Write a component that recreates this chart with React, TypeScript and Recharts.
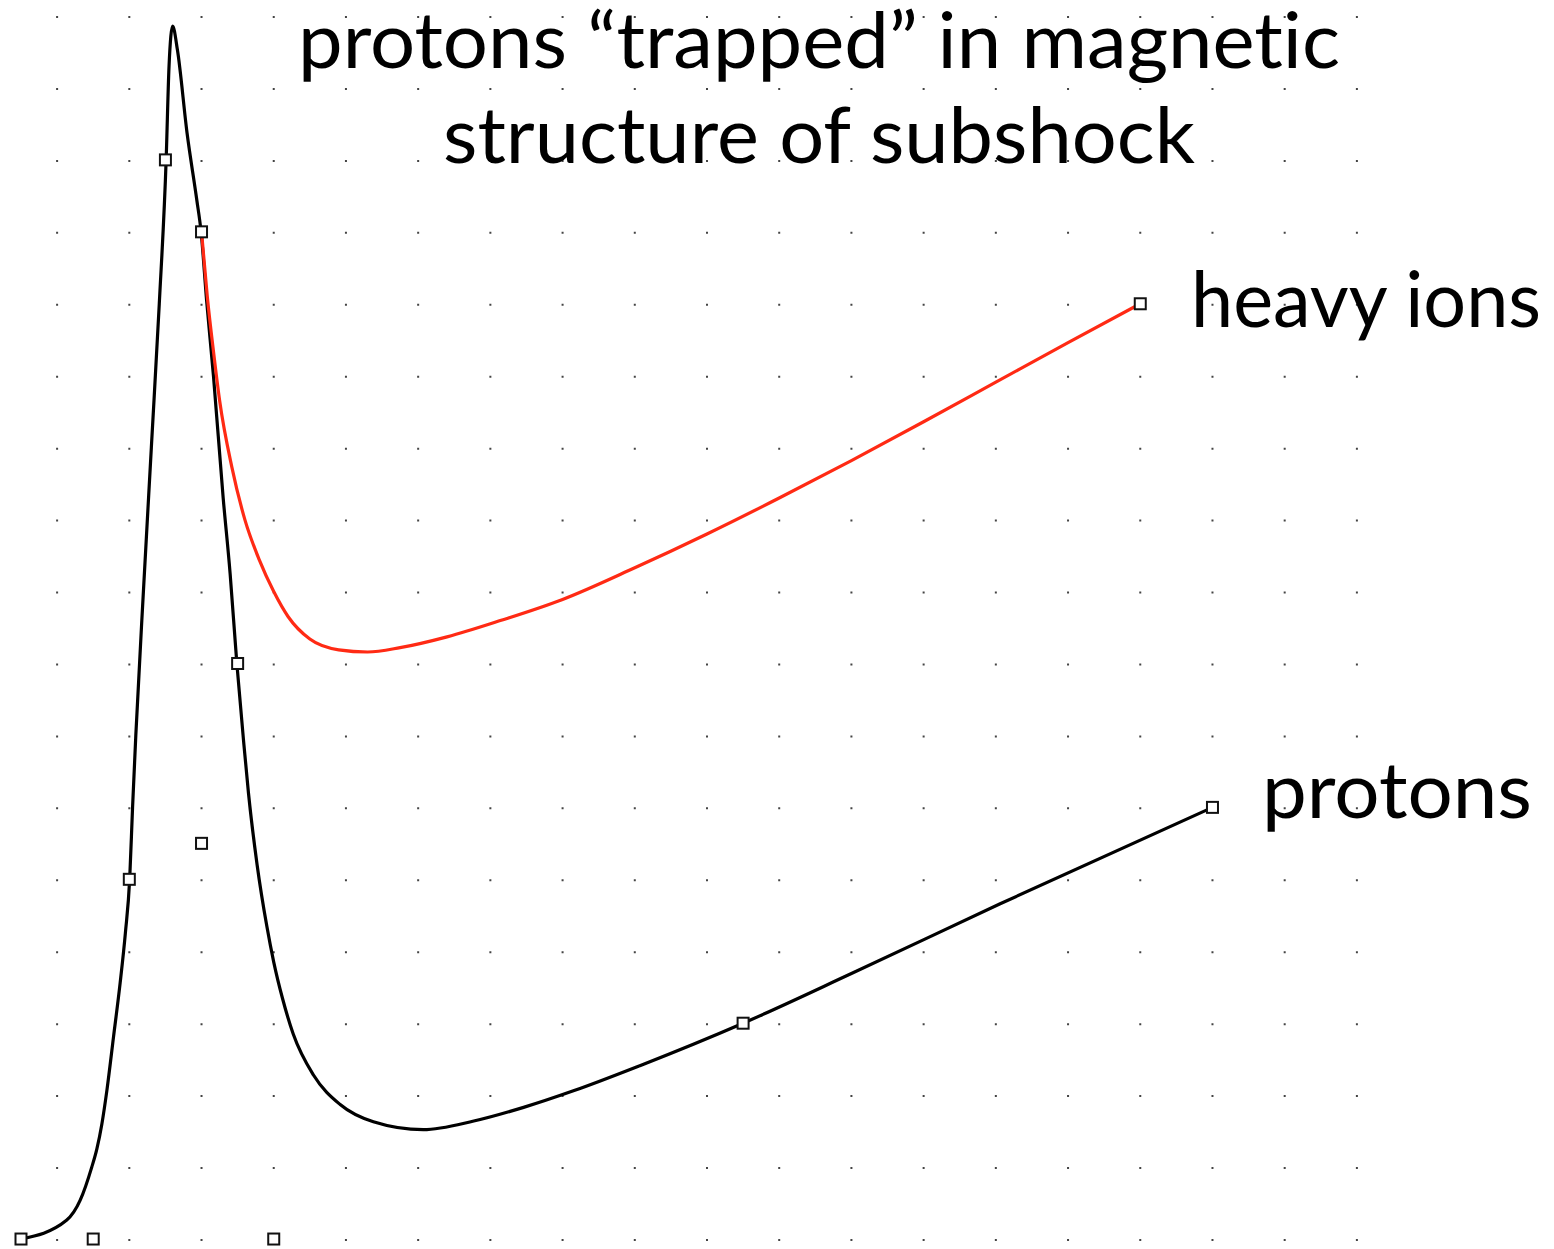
import React from "react";
import { ComposedChart, Line, Scatter, XAxis, YAxis, CartesianGrid } from "recharts";

// grid units: x = dot column, y = dot rows above the bottom row
const protonX = [
  -0.5, 0.13, 0.32, 0.48, 0.55, 0.62, 0.69, 0.78, 0.873, 0.945, 1.005, 1.045, 1.09, 1.195, 1.305, 1.415,
  1.51, 1.55, 1.6, 1.666, 1.8, 1.935, 1.994, 2.07, 2.165, 2.3, 2.396, 2.489, 2.58, 2.65, 2.77, 2.904,
  3.0, 3.12, 3.27, 3.55, 3.92, 4.38, 5.07, 5.77, 6.46, 7.15, 8.07, 9.5, 11.0, 13.06, 16,
];
const protonY = [
  0, 0.26, 0.54, 1.0, 1.25, 1.6, 2.07, 2.8, 3.56, 4.25, 5.0, 6.0, 7.0, 9.0, 11.0, 13.0,
  15.0, 16.3, 16.86, 16.53, 15.37, 14.44, 14.0, 13.05, 12.0, 10.3, 9.25, 8.0, 6.95, 6.2, 5.2, 4.35,
  3.85, 3.35, 2.85, 2.28, 1.87, 1.63, 1.52, 1.64, 1.83, 2.06, 2.41, 3.0, 3.69, 4.66, 6.0,
];

const ionX = [
  2.0, 2.08, 2.17, 2.25, 2.42, 2.6, 2.8, 3.0, 3.2, 3.5, 3.9, 4.3, 4.75, 5.4, 6.15, 7.0, 8.0, 9.0,
  10.0, 11.0, 12.0, 13.0, 14.0, 15.0,
];
const ionY = [
  14.0, 13.1, 12.3, 11.66, 10.73, 10.0, 9.44, 9.0, 8.65, 8.34, 8.19, 8.16, 8.22, 8.37, 8.6, 8.89, 9.33,
  9.8, 10.3, 10.82, 11.36, 11.91, 12.46, 13.0,
];

// little square handles
const handleX = [-0.5, 0.5, 1, 1.5, 2, 2, 2.5, 3, 9.5, 16, 15];
const handleY = [0, 0, 5, 15, 14, 5.5, 8, 0, 3, 6, 13];

const gridCols = [0, 1, 2, 3, 4, 5, 6, 7, 8, 9, 10, 11, 12, 13, 14, 15, 16, 17, 18];
const X_MIN = -0.5;
const X_MAX = 18.5;

const titleLines = ["protons \u201ctrapped\u201d in magnetic", "structure of subshock"];
const curveLabels = ["heavy ions", "protons"];

const protonData = protonX.map((x, i) => ({ x, y: protonY[i] }));
const ionData = ionX.map((x, i) => ({ x, y: ionY[i] }));
const handleData = handleX.map((x, i) => ({ x, y: handleY[i] }));

const Handle = (props: any) => {
  const { cx, cy } = props;
  if (cx == null || cy == null) return null;
  return <rect x={cx - 5.5} y={cy - 5.5} width={11} height={11} fill="#fff" stroke="#111" strokeWidth={2} />;
};

// dot columns, one per grid column
const columnLines = ({ xAxis, offset }: any) => {
  const s = xAxis && xAxis.scale;
  if (typeof s === "function") {
    const out = gridCols.map((c) => s(c));
    if (out.every((v) => typeof v === "number" && !isNaN(v))) return out;
  }
  return gridCols.map((c) => offset.left + ((c - X_MIN) / (X_MAX - X_MIN)) * offset.width);
};

const textStyle: React.CSSProperties = {
  fontFamily: "Lato, 'Open Sans', sans-serif",
  fontSize: 78,
  fill: "#000",
  fontVariantLigatures: "none",
  fontFeatureSettings: '"liga" 0, "clig" 0',
};

export default function App() {
  return (
    <div style={{ position: "absolute", left: 0, top: 0, width: 1554, height: 1249, overflow: "hidden", background: "#fff" }}>
      <ComposedChart width={1554} height={1275} margin={{ top: 16, right: 161, left: 21, bottom: 0 }}>
        <XAxis type="number" dataKey="x" domain={[X_MIN, X_MAX]} ticks={gridCols} hide />
        <YAxis type="number" dataKey="y" domain={[-0.5, 17]} hide />
        <CartesianGrid
          horizontal={false}
          verticalCoordinatesGenerator={columnLines}
          stroke="#444"
          strokeWidth={2}
          strokeDasharray="2 69.94"
        />
        <Line data={protonData} dataKey="y" type="monotone" stroke="#000" strokeWidth={3.2} dot={false} activeDot={false} isAnimationActive={false} />
        <Line data={ionData} dataKey="y" type="monotone" stroke="#ff2a14" strokeWidth={3.2} dot={false} activeDot={false} isAnimationActive={false} />
        <Scatter data={handleData} dataKey="y" shape={Handle} isAnimationActive={false} />
      </ComposedChart>
      <svg width={1554} height={1249} style={{ position: "absolute", left: 0, top: 0, pointerEvents: "none" }}>
        <text x={298} y={68} textLength={1042} lengthAdjust="spacingAndGlyphs" style={textStyle}>{titleLines[0]}</text>
        <text x={443} y={163} textLength={752} lengthAdjust="spacingAndGlyphs" style={textStyle}>{titleLines[1]}</text>
        <text x={1191} y={327} textLength={350} lengthAdjust="spacingAndGlyphs" style={textStyle}>{curveLabels[0]}</text>
        <text x={1262} y={818} textLength={270} lengthAdjust="spacingAndGlyphs" style={textStyle}>{curveLabels[1]}</text>
      </svg>
    </div>
  );
}
